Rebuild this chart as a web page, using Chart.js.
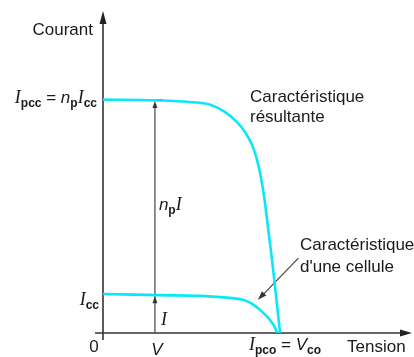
<!DOCTYPE html>
<html>
<head>
<meta charset="utf-8">
<script src="https://cdn.jsdelivr.net/npm/chart.js"></script>
<style>
  body { margin: 0; background: #fff; }
  #wrap { width: 414px; height: 357px; }
</style>
</head>
<body>
<div id="wrap"><canvas id="myChart" width="414" height="357"></canvas></div>
<script>
// courbe résultante (np cellules en parallèle), unités : Vco = 1, Icc = 1
const upperV = [0, 0.30, 0.49, 0.61, 0.69, 0.76, 0.807, 0.847, 0.875, 0.898, 0.918, 0.938, 0.955, 0.983, 1.006]
const upperI = [5.98, 5.96, 5.92, 5.85, 5.67, 5.41, 5.15, 4.82, 4.44, 3.97, 3.41, 2.69, 2.08, 0.97, 0]

// courbe d'une cellule
const lowerV = [0, 0.32, 0.55, 0.72, 0.795, 0.85, 0.90, 0.94, 0.97, 0.99]
const lowerI = [1.0, 0.97, 0.95, 0.90, 0.85, 0.74, 0.56, 0.38, 0.20, 0]

// points repères
const V_POINT = 0.295
const IPCC = 5.97
const ICC = 0.97
const VCO = 1.0
const ARROW_TIP = [0.88, 0.85]
const ARROW_TAIL = [1.11, 1.92]

const CYAN = '#0ae8f8'
const INK = '#1a1a1a'
const SANS = '"Liberation Sans", Arial, sans-serif'
const fMain = `17px ${SANS}`
const fIt = `italic 17px ${SANS}`
const fI = `italic 18px "Liberation Serif", serif`
const fSub = `bold 12px ${SANS}`

const toPoints = (xs, ys) => xs.map((x, i) => ({ x: x, y: ys[i] }))

const drawParts = (ctx, parts, x, y, align) => {
  let w = 0
  parts.forEach(p => { ctx.font = p.f; w += ctx.measureText(p.t).width })
  let cx = align === 'right' ? x - w : align === 'center' ? x - w / 2 : x
  parts.forEach(p => {
    ctx.font = p.f
    ctx.fillText(p.t, cx, y + (p.dy || 0))
    cx += ctx.measureText(p.t).width
  })
}

const arrowHead = (ctx, tx, ty, fx, fy, len, half) => {
  const a = Math.atan2(ty - fy, tx - fx)
  ctx.beginPath()
  ctx.moveTo(tx, ty)
  ctx.lineTo(tx - len * Math.cos(a) + half * Math.sin(a), ty - len * Math.sin(a) - half * Math.cos(a))
  ctx.lineTo(tx - len * Math.cos(a) - half * Math.sin(a), ty - len * Math.sin(a) + half * Math.cos(a))
  ctx.closePath()
  ctx.fill()
}

const axesPlugin = {
  id: 'axes',
  beforeDatasetsDraw(chart) {
    const ctx = chart.ctx
    const xs = chart.scales.x
    const ys = chart.scales.y
    const x0 = xs.getPixelForValue(0)
    const y0 = ys.getPixelForValue(0)
    ctx.save()
    ctx.strokeStyle = '#333'
    ctx.fillStyle = '#222'
    ctx.lineWidth = 1.6
    // axe des courants
    ctx.beginPath()
    ctx.moveTo(x0, y0 + 7)
    ctx.lineTo(x0, chart.chartArea.top + 6)
    ctx.stroke()
    arrowHead(ctx, x0, chart.chartArea.top, x0, y0, 13, 3.5)
    // axe des tensions
    ctx.beginPath()
    ctx.moveTo(x0 - 8, y0)
    ctx.lineTo(chart.chartArea.right - 6, y0)
    ctx.stroke()
    arrowHead(ctx, chart.chartArea.right + 1, y0, x0, y0, 12, 3.5)

    // flèche verticale en V
    const xv = xs.getPixelForValue(V_POINT)
    const yp = ys.getPixelForValue(IPCC)
    const yc = ys.getPixelForValue(ICC)
    ctx.strokeStyle = '#444'
    ctx.fillStyle = '#333'
    ctx.lineWidth = 1.2
    ctx.beginPath()
    ctx.moveTo(xv, y0)
    ctx.lineTo(xv, yp + 4)
    ctx.stroke()
    arrowHead(ctx, xv, yp + 1, xv, y0, 7, 2.5)
    arrowHead(ctx, xv, yc + 1, xv, y0, 7, 2.5)
    ctx.lineWidth = 1.6
    ctx.beginPath()
    ctx.moveTo(xv - 8, yp)
    ctx.lineTo(xv + 8, yp)
    ctx.moveTo(xv - 8, yc)
    ctx.lineTo(xv + 8, yc)
    ctx.stroke()

    // flèche vers la courbe d'une cellule
    const tx = xs.getPixelForValue(ARROW_TIP[0])
    const ty = ys.getPixelForValue(ARROW_TIP[1])
    const fx = xs.getPixelForValue(ARROW_TAIL[0])
    const fy = ys.getPixelForValue(ARROW_TAIL[1])
    ctx.lineWidth = 1.2
    ctx.beginPath()
    ctx.moveTo(fx, fy)
    ctx.lineTo(tx + 4, ty - 4)
    ctx.stroke()
    arrowHead(ctx, tx, ty, fx, fy, 9, 3)
    ctx.restore()
  },
  afterDraw(chart) {
    const ctx = chart.ctx
    const xs = chart.scales.x
    const ys = chart.scales.y
    const x0 = xs.getPixelForValue(0)
    const y0 = ys.getPixelForValue(0)
    const xv = xs.getPixelForValue(V_POINT)
    const yp = ys.getPixelForValue(IPCC)
    const yc = ys.getPixelForValue(ICC)
    const xco = xs.getPixelForValue(VCO)
    ctx.save()
    ctx.fillStyle = INK
    ctx.textBaseline = 'alphabetic'
    ctx.textAlign = 'left'

    drawParts(ctx, [{ t: 'Courant', f: fMain }], x0 - 10, 35, 'right')

    drawParts(ctx, [
      { t: 'I', f: fI }, { t: 'pcc', f: fSub, dy: 4 },
      { t: ' = ', f: fMain },
      { t: 'n', f: fIt }, { t: 'p', f: fSub, dy: 4 },
      { t: 'I', f: fI }, { t: 'cc', f: fSub, dy: 4 }
    ], x0 - 6, yp + 3, 'right')

    drawParts(ctx, [{ t: 'I', f: fI }, { t: 'cc', f: fSub, dy: 4 }], x0 - 4, yc + 10, 'right')

    drawParts(ctx, [{ t: 'n', f: fIt }, { t: 'p', f: fSub, dy: 4 }, { t: 'I', f: fI }], xv + 4, 210, 'left')
    drawParts(ctx, [{ t: 'I', f: fI }], xv + 6, y0 - 8, 'left')

    drawParts(ctx, [{ t: '0', f: fMain }], x0 - 9, y0 + 19, 'center')
    drawParts(ctx, [{ t: 'V', f: fIt }], xv + 2, y0 + 22, 'center')

    drawParts(ctx, [
      { t: 'I', f: fI }, { t: 'pco', f: fSub, dy: 4 },
      { t: ' = ', f: fMain },
      { t: 'V', f: fIt }, { t: 'co', f: fSub, dy: 4 }
    ], xco + 6, y0 + 17, 'center')
    drawParts(ctx, [{ t: 'Tension', f: fMain }], 347, y0 + 19, 'left')

    drawParts(ctx, [{ t: 'Caractéristique', f: fMain }], 250, 102, 'left')
    drawParts(ctx, [{ t: 'résultante', f: fMain }], 250, 122, 'left')
    drawParts(ctx, [{ t: 'Caractéristique', f: fMain }], 300, 250, 'left')
    drawParts(ctx, [{ t: "d'une cellule", f: fMain }], 300, 272, 'left')
    ctx.restore()
  }
}

const chartCanvas = document.getElementById('myChart')

const myChart = new Chart(chartCanvas, {
  type: 'scatter',
  data: {
    datasets: [
      {
        label: 'Caractéristique résultante',
        data: toPoints(upperV, upperI),
        showLine: true,
        borderColor: CYAN,
        borderWidth: 2.6,
        pointRadius: 0,
        cubicInterpolationMode: 'monotone'
      },
      {
        label: "Caractéristique d'une cellule",
        data: toPoints(lowerV, lowerI),
        showLine: true,
        borderColor: CYAN,
        borderWidth: 2.6,
        pointRadius: 0,
        cubicInterpolationMode: 'monotone'
      }
    ]
  },
  options: {
    responsive: false,
    animation: false,
    layout: { padding: { left: 103, right: 3, top: 11, bottom: 24 } },
    plugins: { legend: { display: false }, tooltip: { enabled: false } },
    scales: {
      x: { type: 'linear', min: 0, max: 1.75, display: false },
      y: { type: 'linear', min: 0, max: 8.25, display: false }
    }
  },
  plugins: [axesPlugin]
})
</script>
</body>
</html>
